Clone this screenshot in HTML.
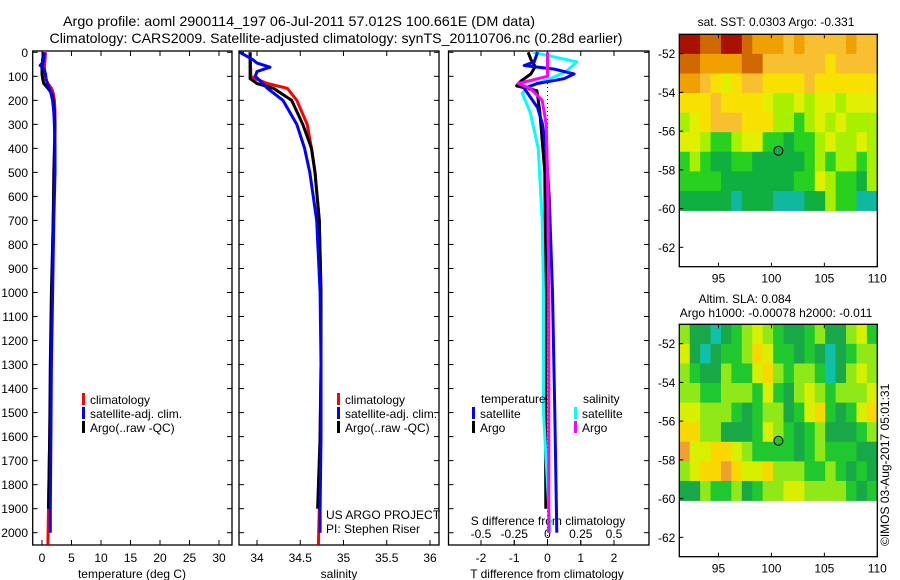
<!DOCTYPE html>
<html><head><meta charset="utf-8"><style>
html,body{margin:0;padding:0;background:#fff;}
svg{display:block;font-family:"Liberation Sans",sans-serif;}
text{font-size:12px;fill:#000;}
</style></head><body>
<svg id="fig" width="900" height="580" viewBox="0 0 900 580" xmlns="http://www.w3.org/2000/svg">
<text x="299" y="26" text-anchor="middle" style="font-size:14px" textLength="472" lengthAdjust="spacingAndGlyphs">Argo profile: aoml 2900114_197 06-Jul-2011 57.012S 100.661E (DM data)</text>
<text x="336" y="43" text-anchor="middle" style="font-size:14px" textLength="573" lengthAdjust="spacingAndGlyphs">Climatology: CARS2009. Satellite-adjusted climatology: synTS_20110706.nc (0.28d earlier)</text>
<g id="g"></g>
</svg>
<script>
// ---------- data ----------
const depthTicks=[0,100,200,300,400,500,600,700,800,900,1000,1100,1200,1300,1400,1500,1600,1700,1800,1900,2000];
const tempTicks=[0,5,10,15,20,25,30];
const salTicks=[34,34.5,35,35.5,36];
const tdiffTicks=[-2,-1,0,1,2];
const sdiffTicks=[-0.5,-0.25,0,0.25,0.5];
const sdiffLabels=["-0.5","-0.25","0","0.25","0.5"];
const latTicks=[-52,-54,-56,-58,-60,-62];
const lonTicks=[95,100,105,110];

const tClimDepth=[0,30,60,90,110,130,150,170,200,250,350,400,500,700,1000,1300,1600,1900,2050];
const tClim=[0.6,0.5,0.4,0.5,0.6,1.0,1.6,1.9,2.1,2.2,2.2,2.2,2.1,1.9,1.7,1.5,1.3,1.1,1.0];
const tSatDepth=[0,40,55,70,90,110,130,150,170,200,250,300,400,500,700,1000,1300,1600,1900,2000];
const tSat=[0.4,0.2,-0.3,0.3,0.6,0.7,0.9,1.2,1.5,1.8,2.0,2.1,2.2,2.2,2.0,1.8,1.6,1.5,1.4,1.4];
const tArgoDepth=[0,30,60,90,110,130,150,170,200,250,300,400,500,700,1000,1300,1600,1900];
const tArgo=[0.3,0.1,0.0,0.0,0.1,0.3,1.0,1.6,1.9,2.1,2.2,2.1,2.0,1.9,1.6,1.4,1.3,1.1];

const sClimDepth=[0,100,110,130,150,200,300,400,500,700,1000,1300,1600,1900,2050];
const sClim=[33.92,33.93,33.98,34.12,34.35,34.46,34.58,34.63,34.67,34.72,34.74,34.74,34.73,34.72,34.71];
const sSatDepth=[0,30,45,62,80,100,120,150,200,300,400,500,700,1000,1300,1600,1900,2000];
const sSat=[33.80,33.95,34.0,34.15,34.0,33.98,34.04,34.12,34.30,34.46,34.55,34.61,34.69,34.73,34.74,34.74,34.73,34.73];
const sArgoDepth=[0,110,130,150,200,300,400,500,700,1000,1300,1600,1900];
const sArgo=[33.92,33.92,34.0,34.19,34.40,34.53,34.63,34.67,34.72,34.74,34.74,34.73,34.70];

const dTSatDepth=[0,40,55,70,90,110,130,150,180,230,300,400,600,1000,1500,2000];
const dTSat=[-0.3,-0.4,-0.7,0.2,0.8,0.5,-0.3,-0.7,-0.55,-0.3,-0.15,-0.05,0.05,0.15,0.22,0.28];
const dTArgoDepth=[0,30,60,90,120,140,160,250,500,1000,1500,1900];
const dTArgo=[-0.58,-0.5,-0.37,-0.5,-0.8,-0.93,-0.32,-0.23,-0.08,-0.05,-0.06,-0.05];
const dSSatDepth=[0,40,80,110,140,170,250,400,700,1000,1500,2000];
const dSSat=[-0.11,0.22,0.14,0.02,-0.13,-0.19,-0.13,-0.07,-0.04,-0.03,-0.03,0.02];
const dSArgoDepth=[0,100,130,150,200,300,500,1000,1500,2000];
const dSArgo=[0.0,0.0,-0.22,-0.13,-0.04,-0.01,0.0,0.01,0.01,0.01];

const sstRows=[
"9988998777676666766",
"8877778866666656666",
"7765456655556555555",
"5556555543343443444",
"3456665553323434333",
"4432234422122343343",
"2321122111112323323",
"2222111111122432213",
"1111101110001132200"];
const slaRows=[
"3110123432112311342",
"4101223542212101233",
"3211322453233201343",
"3322333242134323334",
"4433321233124521245",
"5533111243212311123",
"6445543222212322211",
"3455654453332232121",
"1132231233443333212"];
const sstPalette=["#10b8a0","#10b040","#28d020","#a8f000","#e0f000","#f8e000","#f8c030","#f0a000","#d06800","#a81000"];
const slaPalette=["#10c0a8","#18a848","#20c830","#90e818","#d8f000","#f8d800","#f0a030"];
const floatLon=100.661, floatLat=-57.012;

// ---------- helpers ----------
const NS="http://www.w3.org/2000/svg";
const G=document.getElementById('g');
function mk(tag,attrs,parent){const e=document.createElementNS(NS,tag);for(const k in attrs)e.setAttribute(k,attrs[k]);(parent||G).appendChild(e);return e;}
const top0=51,bot0=545;
const yD=d=>52.3+d*0.2402;
const xT=v=>42+v*5.9;
const xS=v=>257+(v-34)*86.5;
const xdT=v=>547.5+v*33.25;
const xdS=v=>547.5+v*133;

function panel(x0,x1,name){
  const r=mk('rect',{x:x0,y:top0,width:x1-x0,height:bot0-top0,fill:'none',stroke:'#000','stroke-width':1.3});
  
  
  depthTicks.forEach(d=>{
    const t=mk('line',{x1:x0,x2:x0+5,y1:yD(d),y2:yD(d),stroke:'#000'});
    
    
    const t2=mk('line',{x1:x1,x2:x1-5,y1:yD(d),y2:yD(d),stroke:'#000'});
    
    
  });
}
function xticks(vals,labels,sc,y,name,top){
  vals.forEach((v,i)=>{
    const a=mk('line',{x1:sc(v),x2:sc(v),y1:bot0,y2:bot0-5,stroke:'#000'});
    
    
    if(top){const b=mk('line',{x1:sc(v),x2:sc(v),y1:top0,y2:top0+5,stroke:'#000'});
      
      }
    if(y){const t=mk('text',{x:sc(v),y:y,'text-anchor':'middle'});t.textContent=labels[i];
      
      }
  });
}
function line(ds,vs,sc,color,name){
  const pts=ds.map((d,i)=>sc(vs[i]).toFixed(1)+','+yD(d).toFixed(1)).join(' ');
  const p=mk('polyline',{points:pts,fill:'none',stroke:color,'stroke-width':3,'stroke-linejoin':'round'});
  
  
}
function txt(x,y,s,name,extra){const t=mk('text',Object.assign({x:x,y:y},extra||{}));t.textContent=s;
  
  return t;}
function legend(x,y,color,label,name){
  const r=mk('rect',{x:x,y:y-6,width:3,height:12,fill:color});
  
  
  txt(x+8,y+5,label,name+'-label');
}

// ---------- panel 1: temperature ----------
panel(32.7,232,'temperature-panel');
depthTicks.forEach(d=>txt(28,yD(d)+4.5,String(d),'depth-label',{'text-anchor':'end'}));
xticks(tempTicks,tempTicks.map(String),xT,562,'temperature-axis',true);
txt(132,578,'temperature (deg C)','temperature-axis-title',{'text-anchor':'middle'});
line(tClimDepth,tClim,xT,'#ff0000','temperature-climatology-line');
line(tArgoDepth,tArgo,xT,'#000000','temperature-argo-line');
line(tSatDepth,tSat,xT,'#0000ff','temperature-satellite-line');
legend(82,399,'#ff0000','climatology','legend-climatology');
legend(82,413,'#0000ff','satellite-adj. clim.','legend-satellite');
legend(82,427,'#000000','Argo(..raw -QC)','legend-argo');

// ---------- panel 2: salinity ----------
panel(239,439,'salinity-panel');
xticks(salTicks,["34","34.5","35","35.5","36"],xS,562,'salinity-axis',true);
txt(339,578,'salinity','salinity-axis-title',{'text-anchor':'middle'});
line(sClimDepth,sClim,xS,'#ff0000','salinity-climatology-line');
line(sArgoDepth,sArgo,xS,'#000000','salinity-argo-line');
line(sSatDepth,sSat,xS,'#0000ff','salinity-satellite-line');
legend(337,399,'#ff0000','climatology','legend-climatology-2');
legend(337,413,'#0000ff','satellite-adj. clim.','legend-satellite-2');
legend(337,427,'#000000','Argo(..raw -QC)','legend-argo-2');
txt(326,519,'US ARGO PROJECT','project-label');
txt(326,533,'PI: Stephen Riser','pi-label');

// ---------- panel 3: differences ----------
panel(448.5,649,'difference-panel');
const zl=mk('line',{x1:xdT(0),x2:xdT(0),y1:top0,y2:bot0,stroke:'#000','stroke-dasharray':'1,3'});


xticks(tdiffTicks,tdiffTicks.map(String),xdT,562,'t-diff-axis',true);
txt(547,578,'T difference from climatology','t-diff-axis-title',{'text-anchor':'middle'});
xticks(sdiffTicks,sdiffLabels,xdS,538,'s-diff-axis',false);
txt(548,525,'S difference from climatology','s-diff-axis-title',{'text-anchor':'middle'});
line(dTArgoDepth,dTArgo,xdT,'#000000','t-diff-argo-line');
line(dSSatDepth,dSSat,xdS,'#00ffff','s-diff-satellite-line');
line(dTSatDepth,dTSat,xdT,'#0000ff','t-diff-satellite-line');
line(dSArgoDepth,dSArgo,xdS,'#ff00ff','s-diff-argo-line');
txt(481,403,'temperature','legend-temperature-heading');
txt(583,403,'salinity','legend-salinity-heading');
legend(472,413,'#0000ff','satellite','legend-t-satellite');
legend(472,427,'#000000','Argo','legend-t-argo');
legend(574,413,'#00ffff','satellite','legend-s-satellite');
legend(574,427,'#ff00ff','Argo','legend-s-argo');

// ---------- maps ----------
function map(top,rows,pal,name,dotFill){
  const L=679.3,R=877.3,lon0=91.3,lon1=110,lat0=-51,lat1=-63;
  const bottom=top+232.4;
  const xL=v=>L+(v-lon0)/(lon1-lon0)*(R-L);
  const yL=v=>top+(v-lat0)/(lat1-lat0)*(bottom-top);
  const nr=rows.length,nc=rows[0].length;
  const latEdge=-60.1, dLat=(latEdge-lat0)/nr, dLon=(lon1-lon0)/nc;
  rows.forEach((row,j)=>{
    for(let i=0;i<nc;i++){
      const x=xL(lon0+i*dLon),y=yL(lat0+j*dLat);
      const c=mk('rect',{x:x.toFixed(2),y:y.toFixed(2),width:(xL(lon0+(i+1)*dLon)-x+0.4).toFixed(2),height:(yL(lat0+(j+1)*dLat)-y+0.4).toFixed(2),fill:pal[+row[i]]});
      
      
    }
  });
  const fr=mk('rect',{x:L,y:top,width:R-L,height:bottom-top,fill:'none',stroke:'#000','stroke-width':1.3});
  
  
  latTicks.forEach(v=>{
    const t=mk('line',{x1:L,x2:L+4,y1:yL(v),y2:yL(v),stroke:'#000'});
    
    
    txt(L-4,yL(v)+4.5,String(v),name+'-lat-label',{'text-anchor':'end'});
  });
  lonTicks.forEach(v=>{
    const t=mk('line',{x1:xL(v),x2:xL(v),y1:bottom,y2:bottom-4,stroke:'#000'});
    
    
    const t2=mk('line',{x1:xL(v),x2:xL(v),y1:top,y2:top+4,stroke:'#000'});
    
    
    txt(xL(v),bottom+16,String(v),name+'-lon-label',{'text-anchor':'middle'});
  });
  const c=mk('circle',{cx:xL(floatLon),cy:yL(floatLat),r:4.5,fill:dotFill,stroke:'#000','stroke-width':1});
  
  
}
map(34.3,sstRows,sstPalette,'sst-map','#10b040');
map(324.3,slaRows,slaPalette,'sla-map','#20c830');
txt(776,26,'sat. SST: 0.0303 Argo: -0.331','sst-map-title',{'text-anchor':'middle'});
txt(745,303,'Altim. SLA: 0.084','sla-map-title',{'text-anchor':'middle'});
txt(776,317,'Argo h1000: -0.00078 h2000: -0.011','sla-map-subtitle',{'text-anchor':'middle'});
txt(0,0,'©IMOS 03-Aug-2017 05:01:31','timestamp-label',{transform:'translate(889,546) rotate(-90)'});
</script>
</body></html>
